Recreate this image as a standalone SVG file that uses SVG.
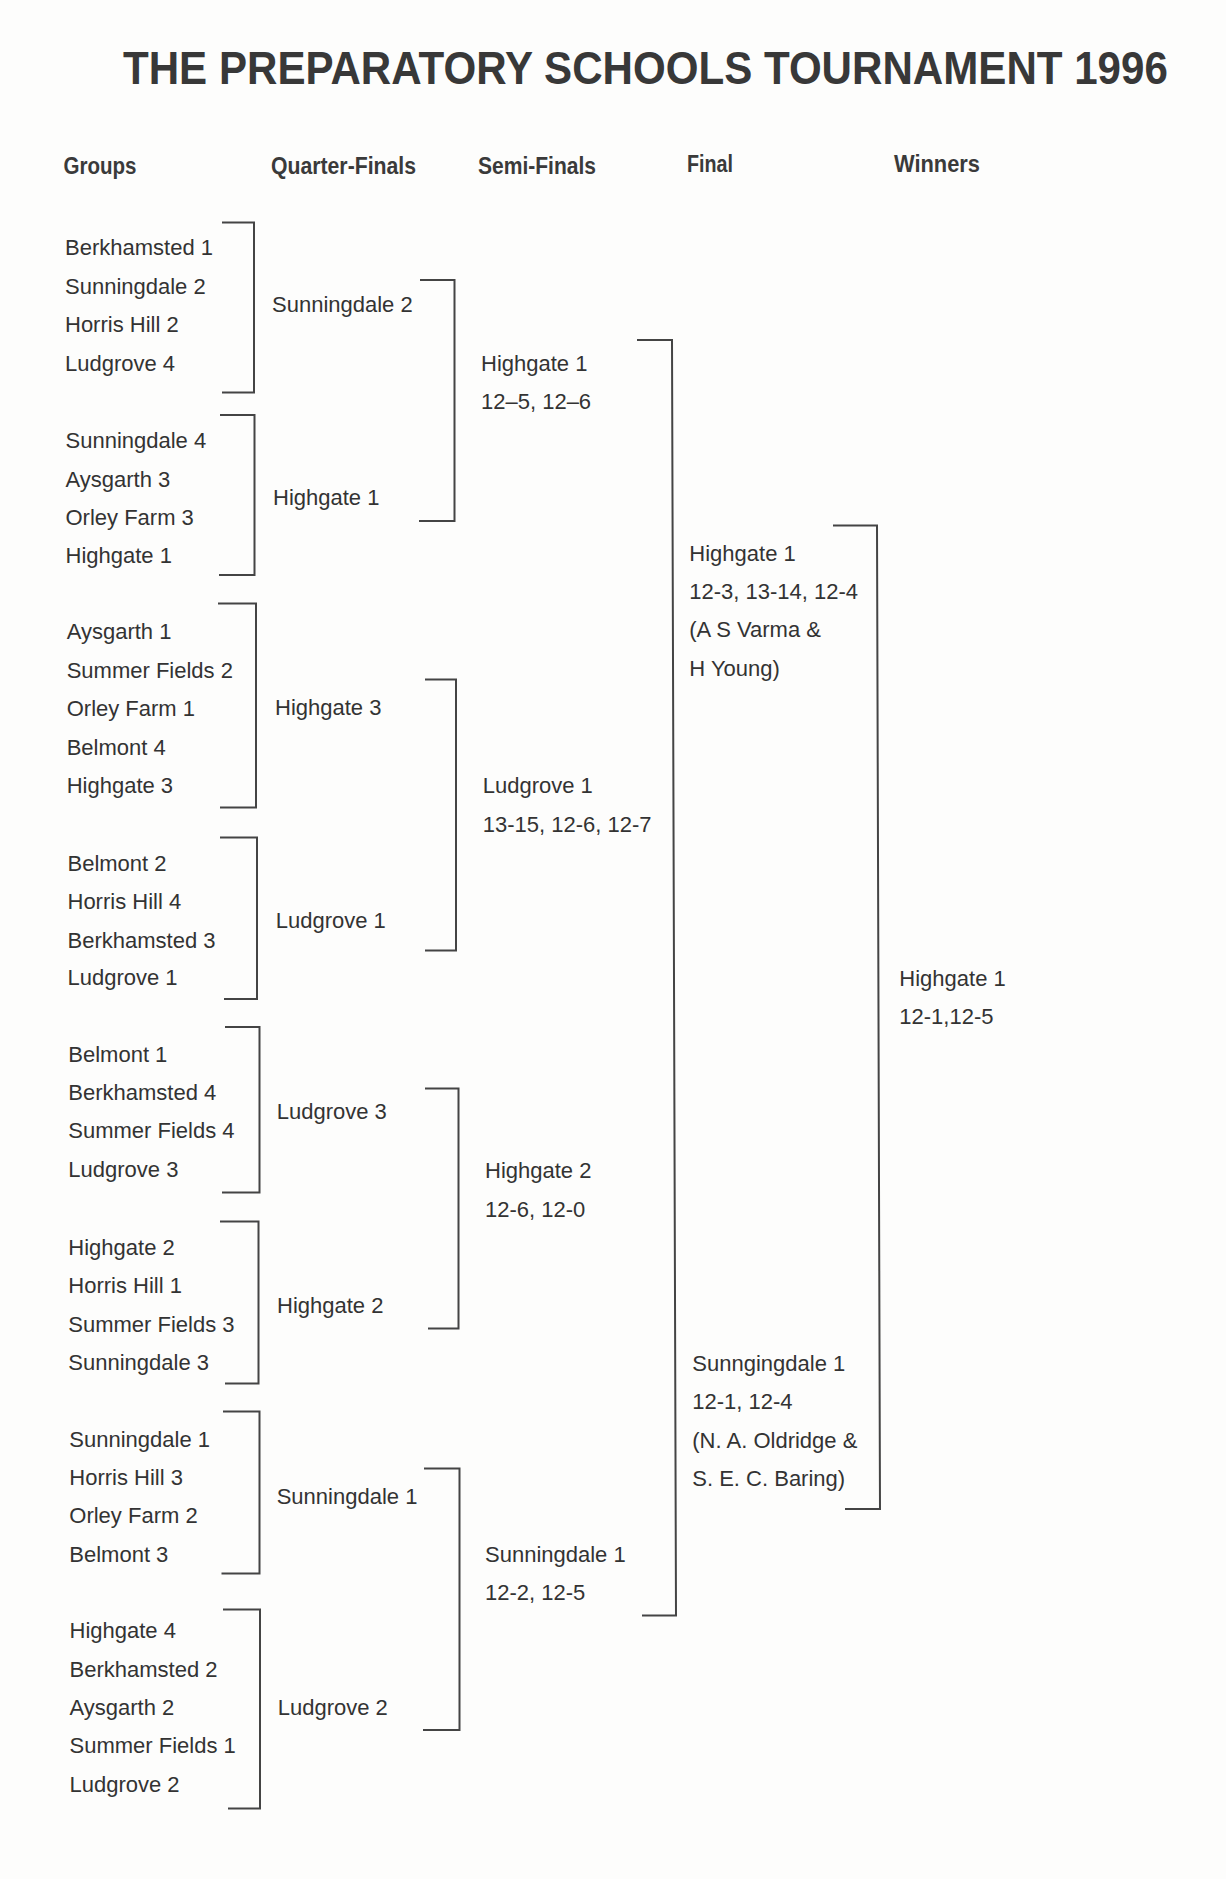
<svg xmlns="http://www.w3.org/2000/svg" width="1226" height="1879" viewBox="0 0 1226 1879">
<style>
  .t { font-family: "Liberation Sans", Arial, sans-serif; font-size: 22px; fill: #333; }
  .h { font-family: "Liberation Sans", Arial, sans-serif; font-size: 24px; font-weight: bold; fill: #3a3a3a; }
  .title { font-family: "Liberation Sans", Arial, sans-serif; font-size: 47px; font-weight: bold; fill: #383838; }
  .br { fill: none; stroke: #444; stroke-width: 2; stroke-linejoin: miter; }
</style>
<rect x="0" y="0" width="1226" height="1879" fill="#fdfdfc"/>

<g id="title">
  <text class="title" x="0" y="0" transform="translate(123,84) scale(0.896,1)">THE PREPARATORY SCHOOLS TOURNAMENT 1996</text>
</g>

<g id="headers">
  <text class="h" x="63.5" y="174" textLength="73" lengthAdjust="spacingAndGlyphs">Groups</text>
  <text class="h" x="271" y="174" textLength="145" lengthAdjust="spacingAndGlyphs">Quarter-Finals</text>
  <text class="h" x="478" y="174" textLength="118" lengthAdjust="spacingAndGlyphs">Semi-Finals</text>
  <text class="h" x="687" y="172" textLength="46" lengthAdjust="spacingAndGlyphs">Final</text>
  <text class="h" x="894" y="172" textLength="86" lengthAdjust="spacingAndGlyphs">Winners</text>
</g>

<g id="connectors">
  <!-- group brackets -->
  <path class="br" d="M222,222.5 H254 V392.5 H222"/>
  <path class="br" d="M220,415 H254.5 V575 H219"/>
  <path class="br" d="M218,603.5 H256 V807.5 H220"/>
  <path class="br" d="M220,837.5 H257 V999 H224"/>
  <path class="br" d="M225,1027 H259.5 V1192.5 H222"/>
  <path class="br" d="M220,1221.5 H258.5 V1383.5 H225"/>
  <path class="br" d="M223,1411.5 H259.5 V1573.5 H221.5"/>
  <path class="br" d="M223,1609.5 H260 V1808.5 H228"/>
  <!-- quarter-final brackets -->
  <path class="br" d="M420,280 H454.5 V521 H419"/>
  <path class="br" d="M425,679.5 H456 V950.5 H425"/>
  <path class="br" d="M425,1088.5 H458.5 V1328.5 H428"/>
  <path class="br" d="M424,1468.5 H459.5 V1730 H423"/>
  <!-- semi-final bracket -->
  <path class="br" d="M637,340 H672 L676,1615.5 H642"/>
  <!-- final bracket -->
  <path class="br" d="M833,525.5 H877 L880,1509 H845"/>
</g>

<g id="group-1">
  <text class="t" x="65" y="255">Berkhamsted 1</text>
  <text class="t" x="65" y="293.5">Sunningdale 2</text>
  <text class="t" x="65" y="332">Horris Hill 2</text>
  <text class="t" x="65" y="370.5">Ludgrove 4</text>
</g>
<g id="group-2">
  <text class="t" x="65.5" y="448.3">Sunningdale 4</text>
  <text class="t" x="65.5" y="486.7">Aysgarth 3</text>
  <text class="t" x="65.5" y="525">Orley Farm 3</text>
  <text class="t" x="65.5" y="563">Highgate 1</text>
</g>
<g id="group-3">
  <text class="t" x="66.7" y="639.3">Aysgarth 1</text>
  <text class="t" x="66.7" y="677.5">Summer Fields 2</text>
  <text class="t" x="66.7" y="716">Orley Farm 1</text>
  <text class="t" x="66.7" y="755">Belmont 4</text>
  <text class="t" x="66.7" y="793.3">Highgate 3</text>
</g>
<g id="group-4">
  <text class="t" x="67.5" y="871">Belmont 2</text>
  <text class="t" x="67.5" y="909.3">Horris Hill 4</text>
  <text class="t" x="67.5" y="947.7">Berkhamsted 3</text>
  <text class="t" x="67.5" y="985">Ludgrove 1</text>
</g>
<g id="group-5">
  <text class="t" x="68.3" y="1061.7">Belmont 1</text>
  <text class="t" x="68.3" y="1100">Berkhamsted 4</text>
  <text class="t" x="68.3" y="1138.3">Summer Fields 4</text>
  <text class="t" x="68.3" y="1176.7">Ludgrove 3</text>
</g>
<g id="group-6">
  <text class="t" x="68.3" y="1255">Highgate 2</text>
  <text class="t" x="68.3" y="1293.3">Horris Hill 1</text>
  <text class="t" x="68.3" y="1331.7">Summer Fields 3</text>
  <text class="t" x="68.3" y="1370">Sunningdale 3</text>
</g>
<g id="group-7">
  <text class="t" x="69.3" y="1446.7">Sunningdale 1</text>
  <text class="t" x="69.3" y="1485">Horris Hill 3</text>
  <text class="t" x="69.3" y="1523.3">Orley Farm 2</text>
  <text class="t" x="69.3" y="1561.7">Belmont 3</text>
</g>
<g id="group-8">
  <text class="t" x="69.5" y="1638.3">Highgate 4</text>
  <text class="t" x="69.5" y="1676.7">Berkhamsted 2</text>
  <text class="t" x="69.5" y="1715">Aysgarth 2</text>
  <text class="t" x="69.5" y="1753.3">Summer Fields 1</text>
  <text class="t" x="69.5" y="1791.7">Ludgrove 2</text>
</g>

<g id="qf-1"><text class="t" x="272" y="311.7">Sunningdale 2</text></g>
<g id="qf-2"><text class="t" x="273" y="505">Highgate 1</text></g>
<g id="qf-3"><text class="t" x="275" y="715">Highgate 3</text></g>
<g id="qf-4"><text class="t" x="275.7" y="928.3">Ludgrove 1</text></g>
<g id="qf-5"><text class="t" x="276.7" y="1119.3">Ludgrove 3</text></g>
<g id="qf-6"><text class="t" x="277" y="1312.7">Highgate 2</text></g>
<g id="qf-7"><text class="t" x="276.7" y="1504">Sunningdale 1</text></g>
<g id="qf-8"><text class="t" x="277.7" y="1715">Ludgrove 2</text></g>

<g id="sf-1">
  <text class="t" x="481" y="371">Highgate 1</text>
  <text class="t" x="481" y="409">12–5, 12–6</text>
</g>
<g id="sf-2">
  <text class="t" x="482.7" y="793.3">Ludgrove 1</text>
  <text class="t" x="482.7" y="831.5">13-15, 12-6, 12-7</text>
</g>
<g id="sf-3">
  <text class="t" x="485" y="1178.3">Highgate 2</text>
  <text class="t" x="485" y="1216.7">12-6, 12-0</text>
</g>
<g id="sf-4">
  <text class="t" x="485" y="1561.7">Sunningdale 1</text>
  <text class="t" x="485" y="1600">12-2, 12-5</text>
</g>

<g id="final-1">
  <text class="t" x="689.3" y="561">Highgate 1</text>
  <text class="t" x="689.3" y="599">12-3, 13-14, 12-4</text>
  <text class="t" x="689.3" y="637.3">(A S Varma &amp;</text>
  <text class="t" x="689.3" y="675.7">H Young)</text>
</g>
<g id="final-2">
  <text class="t" x="692.3" y="1371">Sunngingdale 1</text>
  <text class="t" x="692.3" y="1409.3">12-1, 12-4</text>
  <text class="t" x="692.3" y="1447.7">(N. A. Oldridge &amp;</text>
  <text class="t" x="692.3" y="1485.7">S. E. C. Baring)</text>
</g>

<g id="winner">
  <text class="t" x="899.3" y="986">Highgate 1</text>
  <text class="t" x="899.3" y="1024.3">12-1,12-5</text>
</g>
</svg>
